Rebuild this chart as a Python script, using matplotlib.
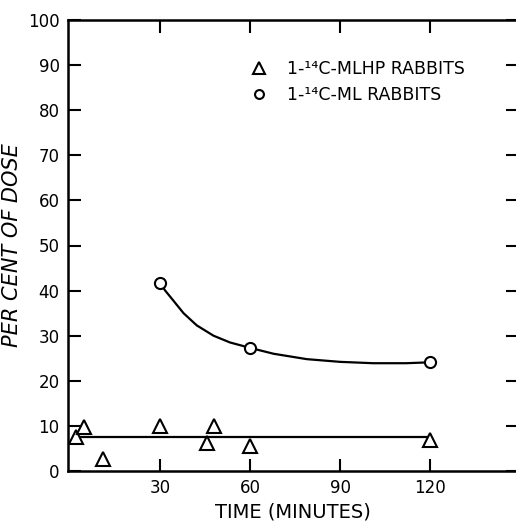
import matplotlib
matplotlib.use("Agg")
import matplotlib.pyplot as plt

# MLHP rabbits (triangles)
mlhp_t = [2, 4.5, 11, 30, 45.5, 48, 60, 120]
mlhp_pct = [7.6, 9.8, 2.7, 10.0, 6.2, 10.0, 5.6, 6.9]
mlhp_fit_t = [2, 120]
mlhp_fit = [7.6, 7.6]

# ML rabbits (circles)
ml_t = [30, 60, 120]
ml_pct = [41.6, 27.3, 24.1]
ml_curve_t = [30, 31.7, 34.4, 37.8, 42.2, 47.8, 53.3, 60, 67.8, 78.9, 90, 101, 112, 120]
ml_curve = [41.6, 40.0, 37.8, 35.0, 32.3, 30.0, 28.5, 27.3, 26.0, 24.8, 24.2, 23.9, 23.9, 24.1]

xticks = [30, 60, 90, 120]
yticks = list(range(0, 101, 10))

plt.rcParams['font.family'] = 'DejaVu Sans'

fig = plt.figure(figsize=(5.16, 5.24), dpi=100)
ax = fig.add_axes([68/516, 53/524, 450/516, 451/524])

ax.plot(mlhp_fit_t, mlhp_fit, color='black', lw=1.6)
ax.plot(ml_curve_t, ml_curve, color='black', lw=1.6)
ax.plot(mlhp_t, mlhp_pct, '^', ms=10, mfc='white', mec='black', mew=1.5,
        label='1-¹⁴C-MLHP RABBITS')
ax.plot(ml_t, ml_pct, 'o', ms=8, mfc='white', mec='black', mew=1.5,
        label='1-¹⁴C-ML RABBITS')

ax.set_xlim(-0.7, 149.3)
ax.set_ylim(0, 100)
ax.set_xticks(xticks)
ax.set_yticks(yticks)
ax.tick_params(direction='in', length=9, width=1.5, labelsize=12,
               top=True, right=True, labeltop=False, labelright=False, pad=6)
for s in ax.spines.values():
    s.set_linewidth(1.8)

ax.set_xlabel('TIME (MINUTES)', fontsize=14, labelpad=4)
ax.set_ylabel('PER CENT OF DOSE', fontsize=15, style='italic', labelpad=4)

leg = ax.legend(loc='upper left', bbox_to_anchor=(0.37, 0.945), frameon=False,
                fontsize=12.5, handletextpad=1.1, labelspacing=0.45,
                handlelength=1.0, markerscale=0.8)

fig.savefig('out.png', dpi=100)
